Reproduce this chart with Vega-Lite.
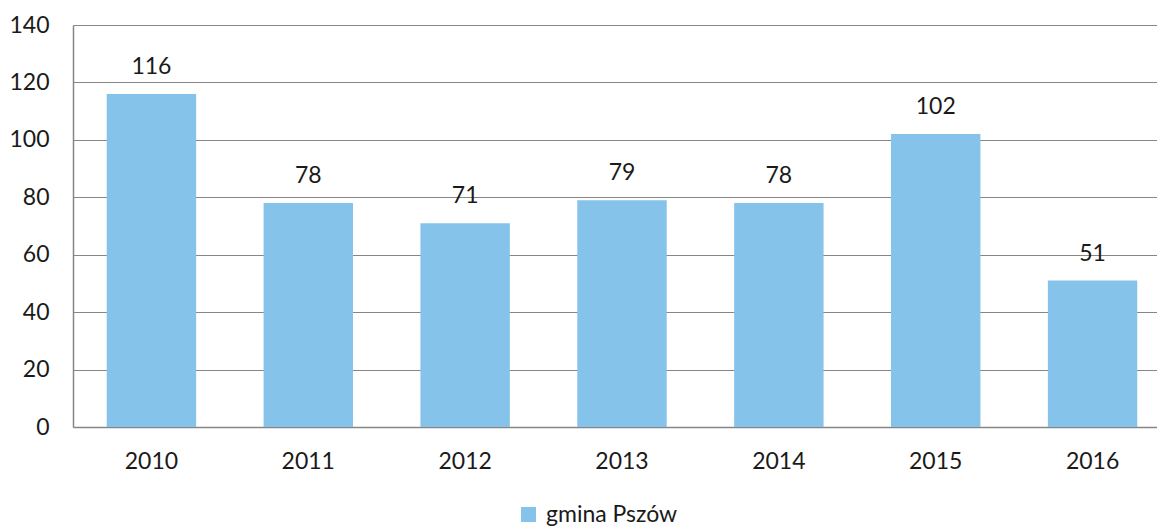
{
  "$schema": "https://vega.github.io/schema/vega-lite/v6.json",
  "autosize": {"type": "none"},
  "padding": {"left": 73, "top": 25, "right": 0, "bottom": 102},
  "width": 1098,
  "height": 402,
  "background": "white",
  "config": {
    "view": {"stroke": null},
    "font": "Lato",
    "axis": {"labelFont": "Lato", "labelFontSize": 23, "labelColor": "#1a1a1a"},
    "legend": {"labelFont": "Lato", "labelFontSize": 23, "labelColor": "#1a1a1a"}
  },
  "data": {
    "values": [
      {"year": "2010", "value": 116, "series": "gmina Pszów"},
      {"year": "2011", "value": 78, "series": "gmina Pszów"},
      {"year": "2012", "value": 71, "series": "gmina Pszów"},
      {"year": "2013", "value": 79, "series": "gmina Pszów"},
      {"year": "2014", "value": 78, "series": "gmina Pszów"},
      {"year": "2015", "value": 102, "series": "gmina Pszów"},
      {"year": "2016", "value": 51, "series": "gmina Pszów"}
    ]
  },
  "encoding": {
    "x": {
      "field": "year", "type": "nominal",
      "scale": {"paddingInner": 0.43, "paddingOuter": 0.215},
      "axis": {"title": null, "labelAngle": 0, "ticks": false, "domainColor": "#868686", "domainWidth": 1.5, "labelPadding": 23}
    },
    "y": {
      "field": "value", "type": "quantitative",
      "scale": {"domain": [0, 140], "nice": false},
      "axis": {"title": null, "values": [0, 20, 40, 60, 80, 100, 120, 140], "ticks": false, "domainColor": "#868686", "domainWidth": 1.5, "gridColor": "#868686", "gridWidth": 1.2, "labelPadding": 24}
    }
  },
  "layer": [
    {
      "mark": {"type": "bar"},
      "encoding": {
        "color": {
          "field": "series", "type": "nominal",
          "scale": {"range": ["#85C3EB"]},
          "legend": {"title": null, "orient": "none", "legendX": 444, "legendY": 478, "symbolType": "square", "symbolSize": 225, "symbolStrokeWidth": 0, "symbolOpacity": 1, "labelOffset": 6}
        }
      }
    },
    {
      "mark": {"type": "text", "dy": -15, "baseline": "bottom", "fontSize": 23, "color": "#1a1a1a", "font": "Lato"},
      "encoding": {"text": {"field": "value", "type": "quantitative"}}
    }
  ]
}
